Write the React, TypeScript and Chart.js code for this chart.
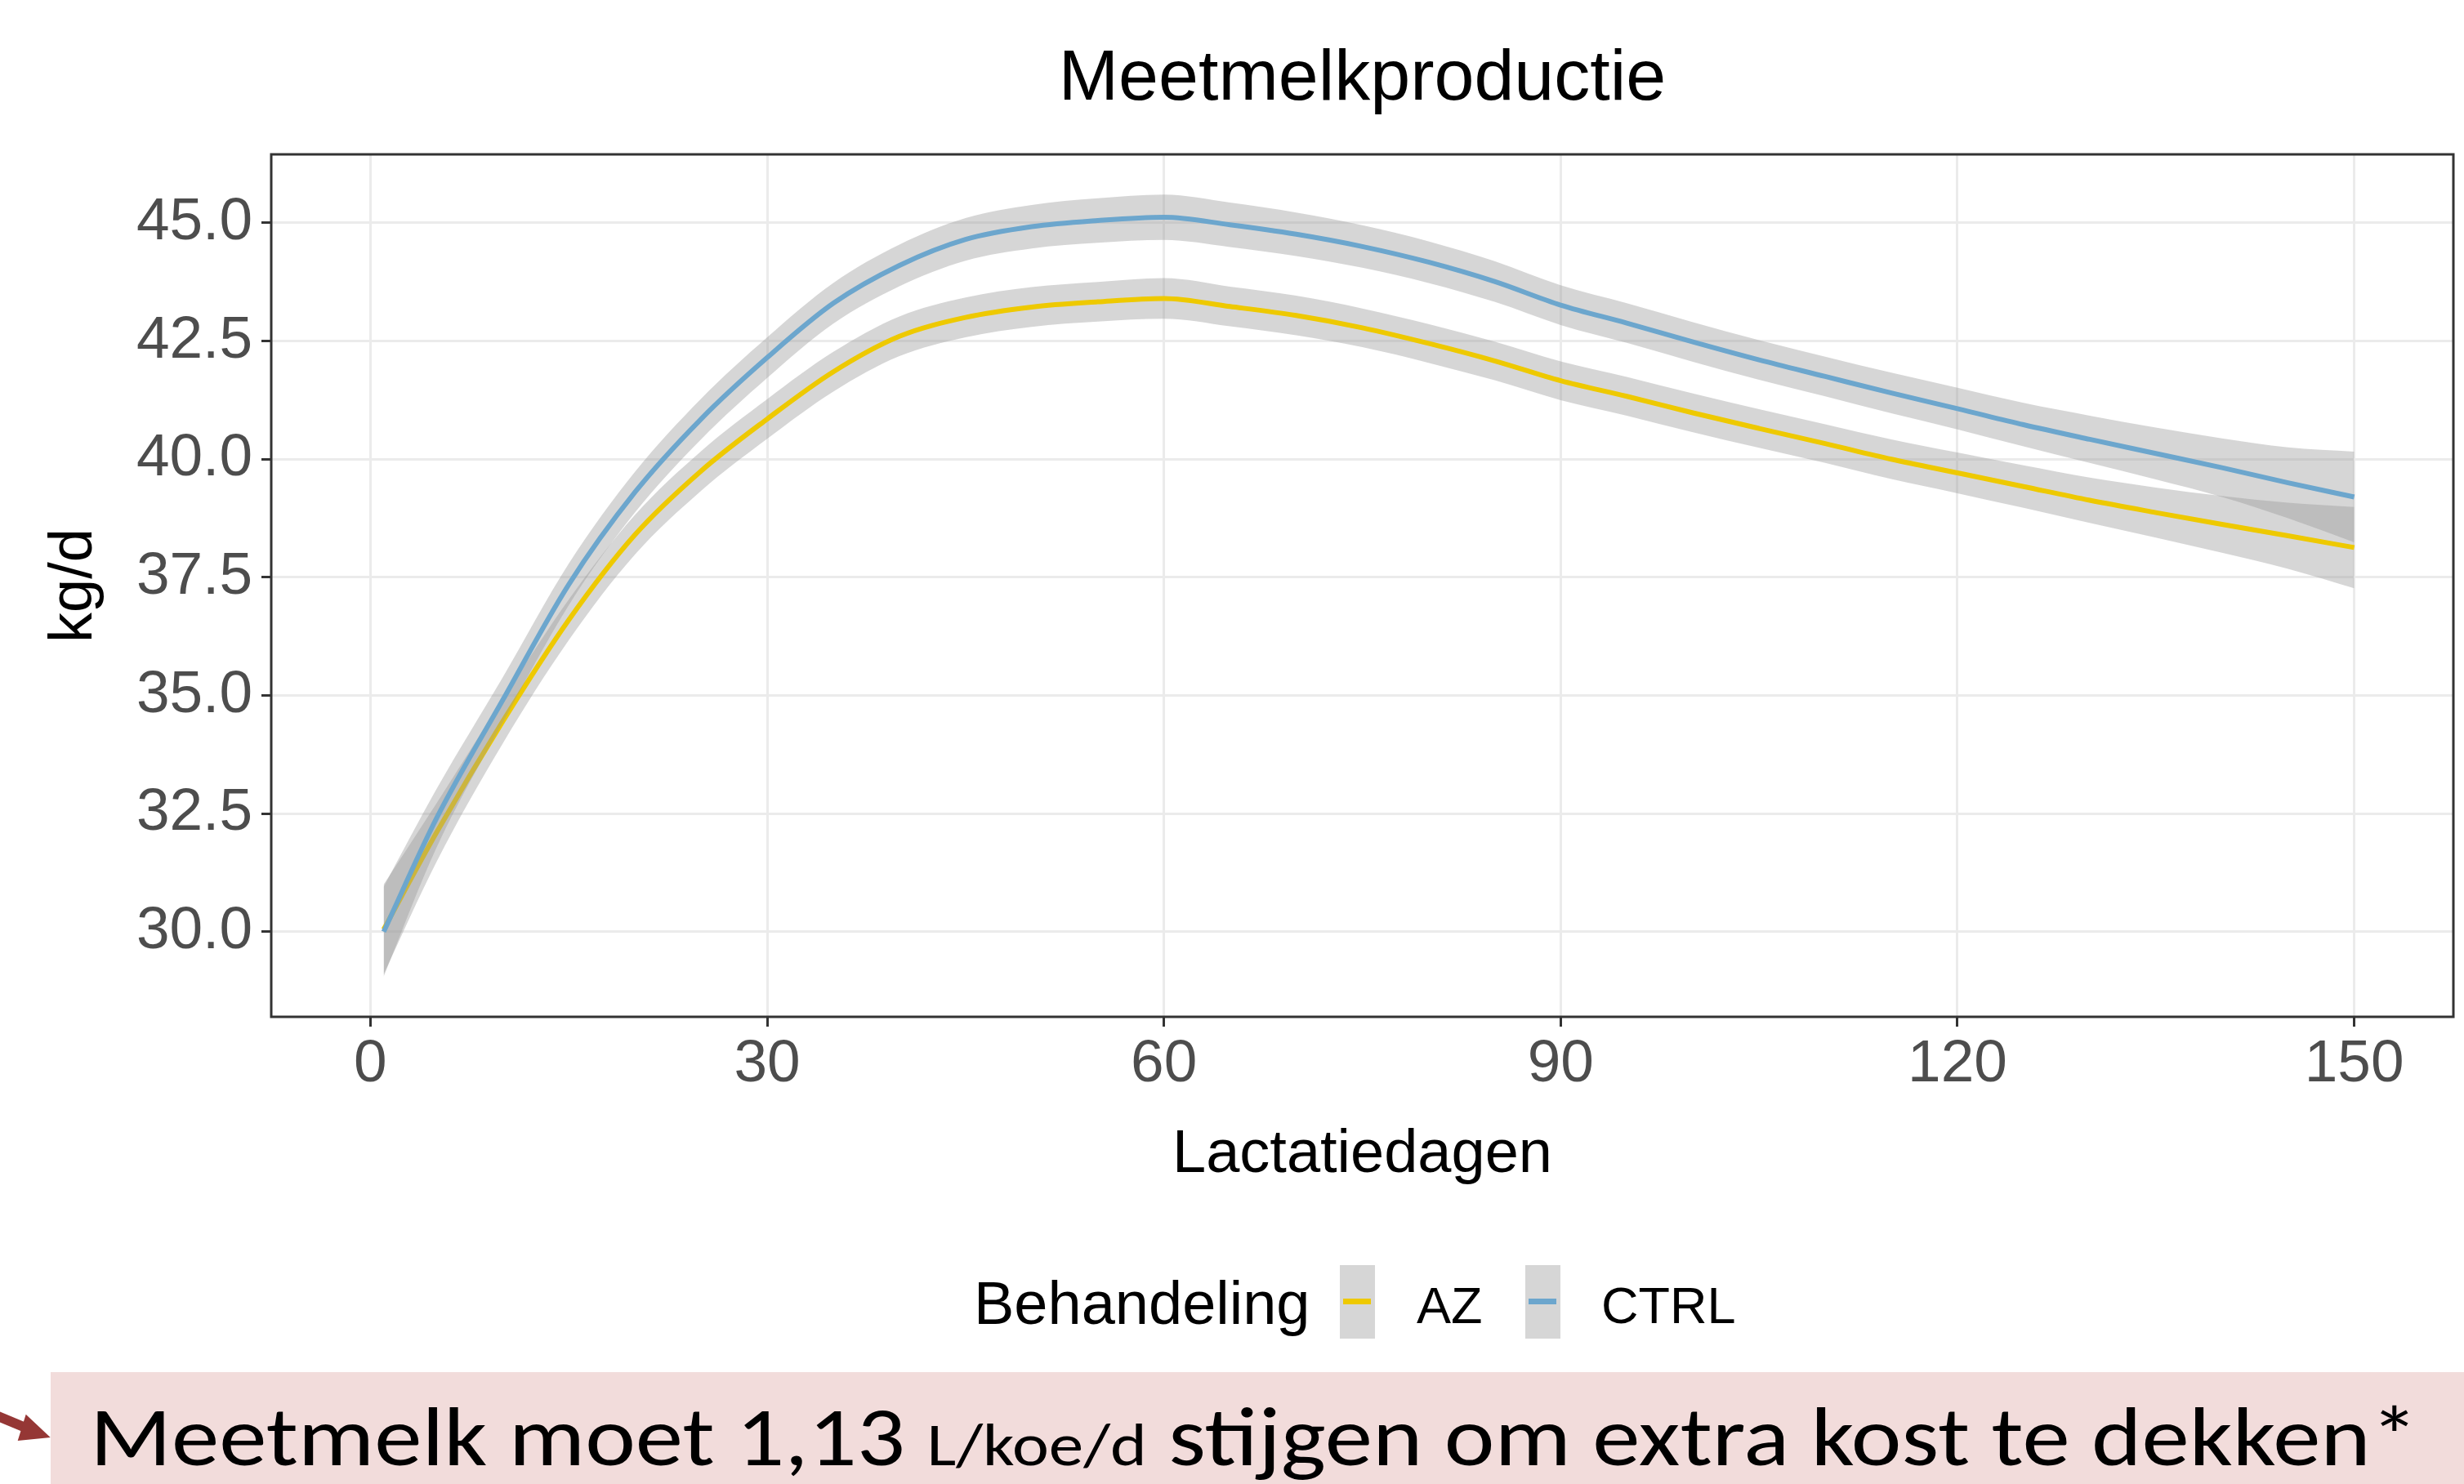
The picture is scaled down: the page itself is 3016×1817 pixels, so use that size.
import React, { useEffect, useLayoutEffect, useRef } from "react";
import { Chart, registerables } from "chart.js";

Chart.register(...registerables);

// ---- data ----
const days = [1, 5, 10, 15, 20, 25, 30, 35, 40, 45, 50, 55, 60, 65, 70, 75, 80, 85, 90, 95, 100, 105, 110, 115, 120, 125, 130, 135, 140, 145, 150];

const azMean = [30.05, 32.1, 34.45, 36.6, 38.4, 39.75, 40.85, 41.85, 42.6, 43.0, 43.22, 43.33, 43.4, 43.23, 43.04, 42.78, 42.45, 42.08, 41.66, 41.33, 40.98, 40.65, 40.33, 40.0, 39.71, 39.42, 39.13, 38.87, 38.62, 38.38, 38.13];
const azHalf = [0.95, 0.62, 0.47, 0.43, 0.42, 0.42, 0.42, 0.42, 0.42, 0.42, 0.42, 0.42, 0.43, 0.42, 0.42, 0.41, 0.41, 0.41, 0.41, 0.41, 0.41, 0.41, 0.41, 0.42, 0.43, 0.45, 0.48, 0.53, 0.6, 0.7, 0.86];

const ctrlMean = [30.0, 32.4, 34.9, 37.35, 39.3, 40.85, 42.15, 43.3, 44.1, 44.65, 44.92, 45.05, 45.12, 44.96, 44.76, 44.5, 44.17, 43.76, 43.26, 42.88, 42.48, 42.1, 41.75, 41.4, 41.07, 40.73, 40.42, 40.12, 39.82, 39.5, 39.2];
const ctrlHalf = [0.95, 0.62, 0.48, 0.44, 0.43, 0.43, 0.43, 0.43, 0.44, 0.45, 0.46, 0.47, 0.48, 0.47, 0.46, 0.45, 0.44, 0.43, 0.42, 0.42, 0.42, 0.42, 0.42, 0.43, 0.44, 0.46, 0.5, 0.55, 0.62, 0.75, 0.96];

const xTicks = [0, 30, 60, 90, 120, 150];
const xTickLabels = ["0", "30", "60", "90", "120", "150"];
const yTicks = [30, 32.5, 35, 37.5, 40, 42.5, 45];
const yTickLabels = ["30.0", "32.5", "35.0", "37.5", "40.0", "42.5", "45.0"];

const groups = ["AZ", "CTRL"];

const AZ_COLOR = "#EEC900";
const CTRL_COLOR = "#6CA6CD";
const RIBBON = "rgba(153,153,153,0.4)";
const FONT = "'Liberation Sans', Arial, sans-serif";

const pts = (vals: number[]) => days.map((d, i) => ({ x: d, y: vals[i] }));

const panelBorder = {
  id: "panelBorder",
  afterDatasetsDraw(chart: any) {
    const { ctx, chartArea: a } = chart;
    ctx.save();
    ctx.strokeStyle = "#333333";
    ctx.lineWidth = 3;
    ctx.strokeRect(a.left, a.top, a.right - a.left, a.bottom - a.top);
    ctx.restore();
  },
};

export default function App() {
  const canvasRef = useRef<HTMLCanvasElement | null>(null);
  const textRef = useRef<HTMLDivElement | null>(null);

  useLayoutEffect(() => {
    const el = textRef.current;
    if (!el) return;
    el.style.transform = "none";
    const w = el.getBoundingClientRect().width;
    const target = 2850;
    if (w > 0) el.style.transform = `scaleX(${target / w})`;
  }, []);

  useEffect(() => {
    if (!canvasRef.current) return;
    const band = (mean: number[], half: number[], sign: number) =>
      mean.map((m, i) => m + sign * half[i]);
    const common = { pointRadius: 0, cubicInterpolationMode: "monotone" as const };
    const chart = new Chart(canvasRef.current, {
      type: "line",
      data: {
        datasets: [
          { ...common, label: "AZ lower", data: pts(band(azMean, azHalf, -1)), borderWidth: 0, borderColor: "rgba(0,0,0,0)", fill: false, order: 5 },
          { ...common, label: "AZ upper", data: pts(band(azMean, azHalf, 1)), borderWidth: 0, borderColor: "rgba(0,0,0,0)", backgroundColor: RIBBON, fill: "-1", order: 4 },
          { ...common, label: groups[0], data: pts(azMean), borderWidth: 6, borderColor: AZ_COLOR, fill: false, order: 3 },
          { ...common, label: "CTRL lower", data: pts(band(ctrlMean, ctrlHalf, -1)), borderWidth: 0, borderColor: "rgba(0,0,0,0)", fill: false, order: 2 },
          { ...common, label: "CTRL upper", data: pts(band(ctrlMean, ctrlHalf, 1)), borderWidth: 0, borderColor: "rgba(0,0,0,0)", backgroundColor: RIBBON, fill: "-1", order: 1 },
          { ...common, label: groups[1], data: pts(ctrlMean), borderWidth: 6, borderColor: CTRL_COLOR, fill: false, order: 0 },
        ],
      },
      options: {
        responsive: false,
        animation: false,
        devicePixelRatio: 1,
        events: [],
        layout: { padding: { left: 0, right: 13, top: 189, bottom: 347 } },
        plugins: {
          legend: { display: false },
          tooltip: { enabled: false },
          title: { display: false },
          filler: { drawTime: "beforeDatasetDraw", propagate: false },
        },
        scales: {
          x: {
            type: "linear",
            min: -7.5,
            max: 157.5,
            afterBuildTicks: (s: any) => {
              s.ticks = xTicks.map((v) => ({ value: v }));
            },
            afterFit: (s: any) => {
              s.height = 225;
            },
            border: { display: false },
            grid: { color: "#EBEBEB", lineWidth: 3, tickColor: "#333333", tickWidth: 3, tickLength: 12, drawTicks: true },
            ticks: {
              autoSkip: false,
              maxRotation: 0,
              padding: 7,
              color: "#4D4D4D",
              font: { family: FONT, size: 73, lineHeight: 1.1 },
              callback: (_v: any, i: number) => xTickLabels[i],
            },
            title: {
              display: true,
              text: "Lactatiedagen",
              color: "#000000",
              font: { family: FONT, size: 74, lineHeight: 1.2 },
              padding: { top: 0, bottom: 11 },
            },
          },
          y: {
            type: "linear",
            min: 28.2,
            max: 46.45,
            afterBuildTicks: (s: any) => {
              s.ticks = yTicks.map((v) => ({ value: v }));
            },
            afterFit: (s: any) => {
              s.width = 332;
            },
            border: { display: false },
            grid: { color: "#EBEBEB", lineWidth: 3, tickColor: "#333333", tickWidth: 3, tickLength: 12, drawTicks: true },
            ticks: {
              autoSkip: false,
              padding: 11,
              color: "#4D4D4D",
              font: { family: FONT, size: 73, lineHeight: 1.1 },
              callback: (_v: any, i: number) => yTickLabels[i],
            },
            title: {
              display: true,
              text: "kg/d",
              color: "#000000",
              font: { family: FONT, size: 74, lineHeight: 1.2 },
              padding: { top: 47, bottom: 0 },
            },
          },
        },
      },
      plugins: [panelBorder],
    });
    return () => chart.destroy();
  }, []);

  const legendTitle: React.CSSProperties = {
    position: "absolute",
    top: 1559,
    fontFamily: FONT,
    fontSize: 74,
    lineHeight: "74px",
    color: "#000",
    whiteSpace: "nowrap",
  };
  const legendText: React.CSSProperties = {
    position: "absolute",
    top: 1567,
    fontFamily: FONT,
    fontSize: 63,
    lineHeight: "63px",
    color: "#000",
    whiteSpace: "nowrap",
  };
  const keyBox: React.CSSProperties = {
    position: "absolute",
    top: 1549,
    width: 43,
    height: 90,
    background: "#D6D6D6",
  };
  const keyLine = (color: string): React.CSSProperties => ({
    position: "absolute",
    left: 4,
    top: 41,
    width: 34,
    height: 7,
    background: color,
  });

  return (
    <div style={{ position: "absolute", left: 0, top: 0, width: 3016, height: 1817, overflow: "hidden", background: "#ffffff" }}>
      <canvas ref={canvasRef} width={3016} height={1817} style={{ position: "absolute", left: 0, top: 0, width: 3016, height: 1817, display: "block" }} />
      <div style={{ position: "absolute", left: 332, width: 2671, top: 48, textAlign: "center", fontFamily: FONT, fontSize: 88, lineHeight: "88px", color: "#000" }}>
        Meetmelkproductie
      </div>
      <div style={{ ...legendTitle, left: 1192 }}>Behandeling</div>
      <div style={{ ...keyBox, left: 1640 }}>
        <div style={keyLine(AZ_COLOR)} />
      </div>
      <div style={{ ...legendText, left: 1734 }}>{groups[0]}</div>
      <div style={{ ...keyBox, left: 1867 }}>
        <div style={keyLine(CTRL_COLOR)} />
      </div>
      <div style={{ ...legendText, left: 1960 }}>{groups[1]}</div>
      <div style={{ position: "absolute", left: 62, top: 1680, width: 2954, height: 137, background: "#F2DCDB", overflow: "hidden" }}>
        <div
          ref={textRef}
          style={{
            position: "absolute",
            left: 48,
            top: 28,
            fontFamily: "Carlito, Calibri, Lato, sans-serif",
            fontSize: 103,
            lineHeight: "103px",
            color: "#000",
            whiteSpace: "nowrap",
            transformOrigin: "0 0",
          }}
        >
          Meetmelk moet 1,13 <span style={{ fontSize: 75 }}>L/koe/d</span> stijgen om extra kost te dekken*
        </div>
      </div>
      <svg width={3016} height={1817} style={{ position: "absolute", left: 0, top: 0, pointerEvents: "none" }}>
        <line x1={-5} y1={1733} x2={36} y2={1750} stroke="#953735" strokeWidth={12} />
        <polygon points="31.7,1731.7 61.7,1760 21.7,1764" fill="#953735" />
      </svg>
    </div>
  );
}
